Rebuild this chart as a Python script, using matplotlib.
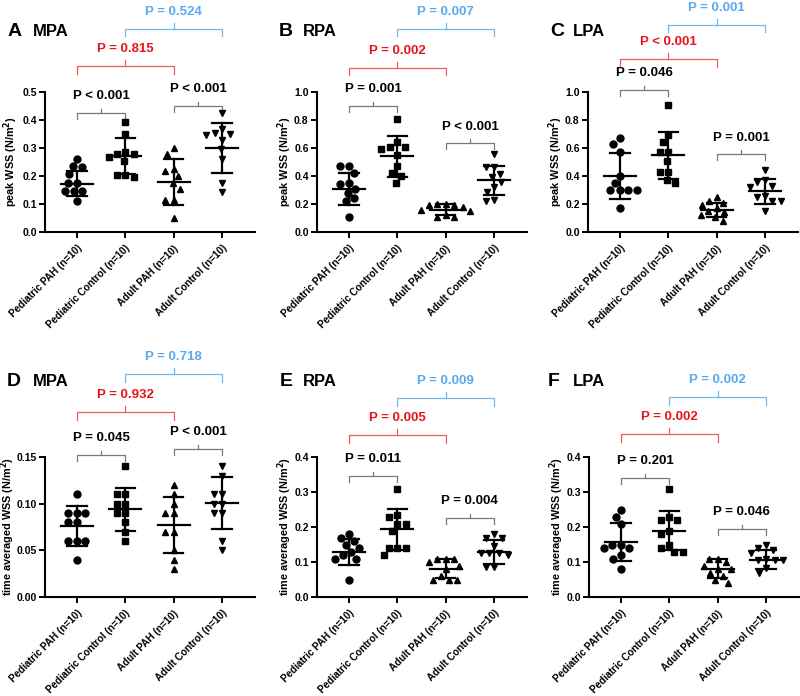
import numpy as np
import matplotlib
matplotlib.use("Agg")
from matplotlib import pyplot as plt
from matplotlib.transforms import blended_transform_factory

plt.rcParams['font.family'] = ['Liberation Sans', 'DejaVu Sans']

groups = ["Pediatric PAH (n=10)", "Pediatric Control (n=10)",
          "Adult PAH (n=10)", "Adult Control (n=10)"]

# peak WSS (N/m2), one list per group
peak_mpa = [[0.262, 0.234, 0.231, 0.207, 0.174, 0.174, 0.145, 0.145, 0.145, 0.112],
            [0.392, 0.350, 0.285, 0.280, 0.278, 0.268, 0.255, 0.205, 0.195, 0.205],
            [0.300, 0.280, 0.226, 0.218, 0.200, 0.175, 0.154, 0.115, 0.115, 0.049],
            [0.424, 0.346, 0.350, 0.367, 0.352, 0.328, 0.298, 0.262, 0.142, 0.174]]
peak_rpa = [[0.47, 0.47, 0.42, 0.35, 0.34, 0.31, 0.28, 0.24, 0.22, 0.11],
            [0.81, 0.64, 0.61, 0.61, 0.59, 0.55, 0.47, 0.42, 0.40, 0.35],
            [0.20, 0.20, 0.19, 0.19, 0.18, 0.16, 0.15, 0.12, 0.11, 0.11],
            [0.555, 0.464, 0.464, 0.416, 0.392, 0.356, 0.32, 0.284, 0.224, 0.228]]
peak_lpa = [[0.67, 0.63, 0.57, 0.40, 0.35, 0.30, 0.30, 0.30, 0.30, 0.17],
            [0.91, 0.69, 0.64, 0.57, 0.57, 0.51, 0.43, 0.43, 0.37, 0.35],
            [0.25, 0.22, 0.21, 0.19, 0.17, 0.15, 0.14, 0.12, 0.11, 0.08],
            [0.445, 0.368, 0.356, 0.332, 0.32, 0.26, 0.252, 0.224, 0.224, 0.15]]

# time averaged WSS (N/m2)
tawss_mpa = [[0.11, 0.09, 0.09, 0.09, 0.08, 0.08, 0.06, 0.06, 0.06, 0.04],
             [0.14, 0.11, 0.11, 0.10, 0.10, 0.09, 0.09, 0.08, 0.07, 0.06],
             [0.12, 0.11, 0.10, 0.09, 0.09, 0.07, 0.07, 0.05, 0.04, 0.03],
             [0.14, 0.13, 0.11, 0.11, 0.10, 0.10, 0.09, 0.09, 0.06, 0.05]]
tawss_rpa = [[0.18, 0.17, 0.16, 0.15, 0.14, 0.13, 0.12, 0.11, 0.11, 0.05],
             [0.31, 0.23, 0.235, 0.21, 0.21, 0.19, 0.14, 0.14, 0.14, 0.12],
             [0.11, 0.11, 0.11, 0.10, 0.09, 0.08, 0.06, 0.05, 0.05, 0.05],
             [0.18, 0.17, 0.17, 0.145, 0.125, 0.125, 0.125, 0.12, 0.085, 0.085]]
tawss_lpa = [[0.25, 0.23, 0.21, 0.15, 0.15, 0.14, 0.14, 0.12, 0.11, 0.08],
             [0.31, 0.23, 0.22, 0.22, 0.19, 0.18, 0.14, 0.15, 0.13, 0.13],
             [0.11, 0.11, 0.10, 0.09, 0.08, 0.08, 0.07, 0.06, 0.05, 0.04],
             [0.15, 0.14, 0.135, 0.126, 0.107, 0.107, 0.11, 0.107, 0.083, 0.068]]

# mean and SD as drawn
means = {"A": [0.172, 0.270, 0.178, 0.300], "B": [0.308, 0.540, 0.160, 0.368],
         "C": [0.400, 0.548, 0.160, 0.290], "D": [0.076, 0.094, 0.077, 0.101],
         "E": [0.129, 0.193, 0.081, 0.129], "F": [0.157, 0.190, 0.081, 0.107]}
sds = {"A": [0.045, 0.064, 0.081, 0.088], "B": [0.115, 0.145, 0.040, 0.105],
       "C": [0.166, 0.168, 0.050, 0.090], "D": [0.021, 0.023, 0.030, 0.028],
       "E": [0.038, 0.058, 0.027, 0.035], "F": [0.054, 0.056, 0.028, 0.028]}

# p values: [ped PAH vs ped ctrl, adult PAH vs adult ctrl, ped PAH vs adult PAH, ped ctrl vs adult ctrl]
pvals = {"A": ["P < 0.001", "P < 0.001", "P = 0.815", "P = 0.524"],
         "B": ["P = 0.001", "P < 0.001", "P = 0.002", "P = 0.007"],
         "C": ["P = 0.046", "P = 0.001", "P < 0.001", "P = 0.001"],
         "D": ["P = 0.045", "P < 0.001", "P = 0.932", "P = 0.718"],
         "E": ["P = 0.011", "P = 0.004", "P = 0.005", "P = 0.009"],
         "F": ["P = 0.201", "P = 0.046", "P = 0.002", "P = 0.002"]}

vessels = {"A": "MPA", "B": "RPA", "C": "LPA", "D": "MPA", "E": "RPA", "F": "LPA"}
panel_data = {"A": peak_mpa, "B": peak_rpa, "C": peak_lpa,
              "D": tawss_mpa, "E": tawss_rpa, "F": tawss_lpa}

# layout (axes fraction heights of the brackets)
bracket_y = {"A": [0.849, 0.90, 1.187, 1.453], "B": [0.90, 0.633, 1.173, 1.453],
             "C": [1.014, 0.554, 1.237, 1.48], "D": [1.014, 1.057, 1.321, 1.593],
             "E": [0.864, 0.564, 1.157, 1.421], "F": [0.85, 0.486, 1.164, 1.429]}
ylims = {"A": (0.5, 0.1, "%.1f"), "B": (1.0, 0.2, "%.1f"), "C": (1.0, 0.2, "%.1f"),
         "D": (0.15, 0.05, "%.2f"), "E": (0.4, 0.1, "%.1f"), "F": (0.4, 0.1, "%.1f")}
axes_pos = {"A": (45, 92), "B": (317, 92), "C": (588, 92),
            "D": (45, 457), "E": (317, 457), "F": (589, 457)}
ylabel_x = {"A": -0.12, "B": -0.11, "C": -0.11, "D": -0.133, "E": -0.11, "F": -0.11}
title_pos = {"A": (8, 33, 31), "B": (279, 303, 31), "C": (550, 573, 31),
             "D": (7, 33, 382), "E": (280, 303, 382), "F": (548, 573, 382)}
markers = ["o", "s", "^", "v"]

W, H = 800, 696
AX_W, AX_H = 210, 140
GROUP_PX = 48.3


def swarm(vals, px_y, d=8.5):
    vals = np.asarray(vals, float)
    ys = vals * px_y
    offs = np.zeros(len(vals))
    placed = []
    grid = np.arange(-40, 40.01, 0.5)
    grid = grid[np.argsort(np.abs(grid), kind="stable")]
    for i in np.argsort(-vals, kind="stable"):
        for gx in grid:
            if all((gx - px) ** 2 + (ys[i] - py) ** 2 >= d * d for px, py in placed):
                offs[i] = gx
                placed.append((gx, ys[i]))
                break
    return offs / GROUP_PX


def bracket(ax, x1, x2, y, color, label, tcolor, big):
    tr = blended_transform_factory(ax.transData, ax.transAxes)
    drop = 0.055 if big else 0.04
    up = 0.04 if big else 0.03
    xm = (x1 + x2) / 2
    ax.plot([x1, x1, x2, x2], [y - drop, y, y, y - drop], color=color, lw=0.9,
            transform=tr, clip_on=False)
    ax.plot([xm, xm], [y, y + up], color=color, lw=0.9, transform=tr, clip_on=False)
    ax.text(xm, y + 0.12, label, color=tcolor, fontsize=9.5, fontweight="bold",
            ha="center", va="center", transform=tr)


fig = plt.figure(figsize=(W / 100, H / 100), dpi=100)

for key in ["A", "B", "C", "D", "E", "F"]:
    left, top = axes_pos[key]
    ax = fig.add_axes([left / W, 1 - (top + AX_H) / H, AX_W / W, AX_H / H])
    ymax, ystep, fmt = ylims[key]
    data = panel_data[key]
    for g in range(4):
        offs = swarm(data[g], AX_H / ymax)
        ax.plot(g + offs, data[g], linestyle="none", marker=markers[g],
                color="black", markersize=5, clip_on=False, zorder=3)
        m, s = means[key][g], sds[key][g]
        ax.plot([g - 0.33, g + 0.33], [m, m], color="black", lw=1.6, zorder=4)
        ax.plot([g, g], [m - s, m + s], color="black", lw=1.6, zorder=4)
        ax.plot([g - 0.2, g + 0.2], [m + s, m + s], color="black", lw=1.6, zorder=4)
        ax.plot([g - 0.2, g + 0.2], [m - s, m - s], color="black", lw=1.6, zorder=4)

    ax.set_xlim(-0.66, 3.68)
    ax.set_ylim(0, ymax)
    ax.set_yticks(np.arange(0, ymax + ystep / 2, ystep))
    ax.yaxis.set_major_formatter(matplotlib.ticker.FormatStrFormatter(fmt))
    ax.set_xticks(range(4))
    ax.set_xticklabels(groups, rotation=45, ha="right", rotation_mode="anchor",
                       fontsize=7.2, fontweight="bold")
    for lab in ax.get_yticklabels():
        lab.set_fontweight("bold")
        lab.set_fontsize(7.5)
    ax.tick_params(width=1.4, length=4, pad=2)
    ax.tick_params(axis="x", pad=4)
    for sp in ["top", "right"]:
        ax.spines[sp].set_visible(False)
    for sp in ["left", "bottom"]:
        ax.spines[sp].set_linewidth(1.5)
    ylab = "peak WSS (N/m$^{\\mathbf{2}}$)" if key in "ABC" else "time averaged WSS (N/m$^{\\mathbf{2}}$)"
    ax.set_ylabel(ylab, fontsize=7.8, fontweight="bold")
    ax.yaxis.set_label_coords(ylabel_x[key], 0.5)

    by = bracket_y[key]
    p = pvals[key]
    bracket(ax, 0, 1, by[0], "#7a7a7a", p[0], "black", False)
    bracket(ax, 2, 3, by[1], "#7a7a7a", p[1], "black", False)
    bracket(ax, 0, 2, by[2], "#f05a5a", p[2], "#e8141c", True)
    bracket(ax, 1, 3, by[3], "#72b8f0", p[3], "#5aa8ee", True)

    lx, nx, ty = title_pos[key]
    fig.text(lx / W, 1 - ty / H, key, fontsize=14, fontweight="bold", va="center")
    fig.text(nx / W, 1 - ty / H, vessels[key], fontsize=12, fontweight="bold", va="center")

fig.savefig("out.png", dpi=100)
